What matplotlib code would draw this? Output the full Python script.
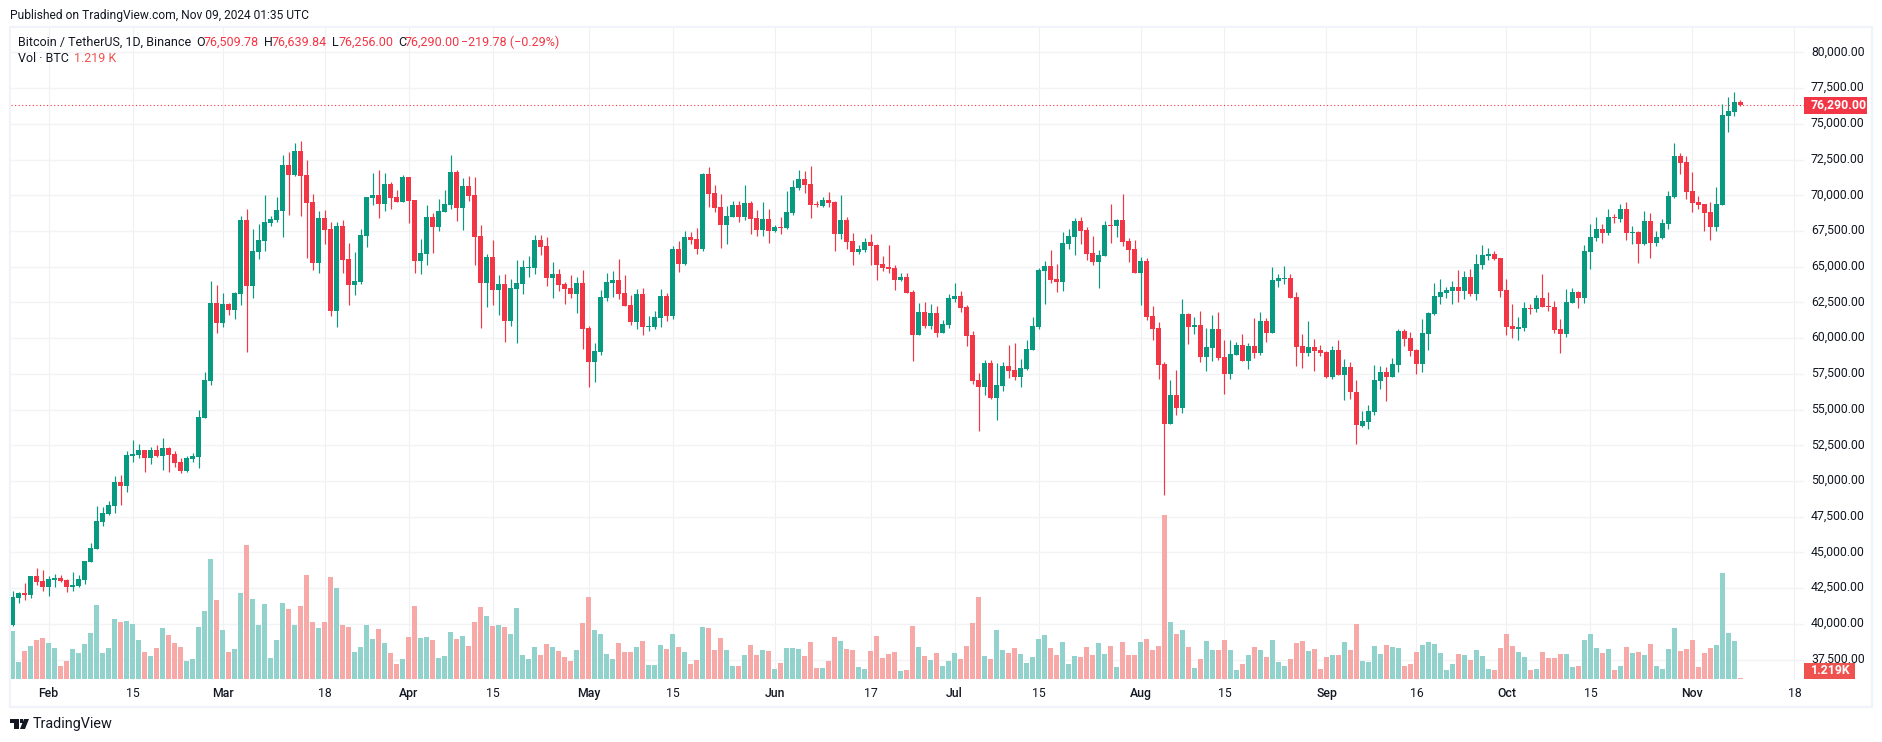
import pandas as pd
import matplotlib
matplotlib.use("Agg")
import matplotlib.pyplot as plt
from matplotlib.patches import Rectangle, Polygon
from matplotlib.transforms import ScaledTranslation

plt.rcParams['font.family'] = ['Roboto', 'DejaVu Sans']

open_ = [
    39920,41810,42160,42020,43350,43000,42580,43070,43210,43070,
    42580,42650,43070,44330,45240,47130,47690,48250,49930,49650,
    51750,51820,52170,51610,52170,51750,52310,51890,51330,50700,
    51540,51680,54410,57000,62460,61060,62390,61970,63090,68270,
    63650,66030,66800,68060,68270,68900,72120,71420,73100,71420,
    69530,65260,68410,67640,61900,67850,65540,63720,63930,67150,
    69810,70020,69390,70790,69880,69530,71280,69670,65400,65890,
    68480,67780,68830,69320,71630,69110,70650,70020,67150,63860,
    65680,63370,63790,61200,63440,63790,64910,64910,66870,66450,
    64210,64490,63790,63510,63090,63860,60710,58330,59030,62810,
    63860,64070,63160,62320,61130,63090,60780,60780,61410,62950,
    61550,66240,65190,67080,66940,66240,71490,70160,69180,67920,
    68480,69320,68480,69460,68410,67570,68340,67500,67780,67710,
    68760,70510,71140,70790,69390,69250,69670,69530,67290,68270,
    66800,66030,66170,66730,66520,65190,64980,64910,64070,64280,
    63230,60220,61830,60850,61760,60360,60920,62740,62950,62180,
    60220,57070,56580,58260,55810,56650,58050,57770,57280,57840,
    59170,60780,64700,65050,64140,63930,66590,67080,68200,67570,
    65960,65330,65750,67920,67850,68270,66800,66240,64560,65400,
    61550,60710,58190,53990,56020,55110,61690,60780,60920,58680,
    59310,60640,58680,57490,58820,59520,58400,59450,58960,61200,
    60360,64000,64140,64210,62880,59450,58960,59380,59170,59030,
    57280,59170,57420,57980,56210,53870,54150,54850,57020,57630,
    57280,58120,60500,60010,59170,58190,60290,61690,62880,63160,
    63300,63580,63300,64280,63090,65120,65750,65890,65610,63370,
    60850,60640,60710,62110,62040,62810,62250,62180,60640,60290,
    62460,63230,62810,66030,67010,67640,67360,68480,68340,69040,
    67360,67430,66590,68200,66660,67010,67990,69880,72750,72330,
    70300,69530,69390,68830,67780,69320,75550,75830,76509.78,
]
high = [
    42300,42230,42860,43350,43910,43770,43350,43490,43420,43140,
    43630,43420,44400,45660,48250,48180,48600,50350,50420,52100,
    52870,52590,52170,52380,52520,53010,52380,52100,51610,51750,
    51960,54970,57630,63970,63720,63160,62460,63230,68550,69040,
    67640,67990,70020,68550,69880,72820,73030,73660,73800,72470,
    70090,68900,68970,68130,68130,68270,66660,66030,67640,69880,
    71560,71770,71560,70930,70370,71420,71280,69670,66940,69320,
    68760,69740,70370,72820,71770,71210,71350,71280,67920,65890,
    66870,64420,64490,64140,65470,65470,65750,67220,67220,67080,
    65330,64840,63930,64420,64280,64770,60850,59660,63370,64560,
    64700,65540,64420,63020,63440,63510,61550,61900,63440,63160,
    66450,66800,67500,67430,67710,71560,71980,70720,70090,69250,
    69600,69600,70720,69600,68970,69530,69040,67920,68480,70300,
    71070,71770,71700,72050,69600,69880,70230,69600,70020,68480,
    67360,66520,67010,67290,66590,65750,66520,65120,64560,64560,
    63370,62460,62530,62390,62250,61270,63090,63860,63300,62320,
    60500,57560,58470,58470,58260,58330,59520,59660,58540,59870,
    61480,64910,65400,66170,65190,67430,67640,68410,68480,67780,
    67150,66170,68200,69390,68340,70090,67010,66870,65680,65610,
    62250,61130,58330,57070,57770,62740,61760,61480,61900,60710,
    61620,61830,59870,59870,59730,60290,59660,61410,61830,61410,
    64980,64490,65050,64490,63230,60290,61200,59940,59520,59100,
    59450,59870,58540,58350,57070,54900,55320,58120,58050,57980,
    58610,60640,60640,60430,59240,61340,61830,63860,64140,63580,
    64000,64770,64700,64840,65890,66520,66310,66100,65610,64140,
    62390,61480,62530,62390,63020,64490,63230,62600,61340,63440,
    63510,63300,66520,67990,68480,67990,69040,68690,69390,69530,
    67850,67500,68900,68760,67500,68340,70300,73660,72960,72750,
    71630,69950,69390,69530,70580,76390,76880,77230,76639.84,
]
low = [
    39850,41460,41670,41810,42720,42300,41950,42580,42930,42230,
    42300,42580,42790,44330,45240,46850,47620,47760,48320,49230,
    51330,51610,50630,51190,51680,50770,50630,50980,50560,50630,
    51330,50910,54410,56720,60360,60780,61620,61340,62320,59030,
    62810,65540,66100,67850,68130,67080,68620,71350,68550,65610,
    64770,64560,66590,61550,60780,64560,62320,63020,63790,66380,
    69320,68410,68900,69040,69530,69530,68060,64560,64490,65120,
    65960,67500,68830,69040,68200,67570,69600,65120,60710,62180,
    62320,61620,59730,60850,59660,63090,64280,64490,65820,63650,
    62810,63300,62390,62810,61760,59240,56580,56930,58820,62600,
    62880,62740,62250,60920,60640,60220,60500,60640,60780,61200,
    61340,64630,65120,66590,65890,66100,69180,68830,66310,66590,
    68480,68130,68270,67290,67150,67150,66660,67430,67290,67640,
    68620,70370,70160,68410,69180,69180,69180,66100,66940,66240,
    65120,65890,66030,65120,64070,64700,64560,63370,64000,63160,
    58400,60220,60710,60640,60080,60360,60710,62530,61830,59450,
    56790,53500,56020,55740,54270,56300,57210,57070,56580,57770,
    59170,60640,62390,63860,63230,63300,66240,65820,66590,65470,
    65120,63510,65750,66660,67080,66450,65330,64560,62320,61270,
    59870,57140,49020,53990,54620,54760,59590,60290,58330,57700,
    58400,58470,56090,57140,58820,58400,57840,58610,58820,59730,
    60360,63580,63790,62810,58050,57910,58750,57700,58750,57210,
    57140,57420,55670,55720,52590,53800,53640,54640,56440,55620,
    57280,57630,59450,58750,57490,57630,59170,61620,62390,62810,
    62390,62530,62740,62950,62670,64840,65470,65470,62880,60220,
    60010,59870,60500,61690,61830,62180,61900,60360,58960,60080,
    62460,62110,62460,64840,66800,66660,67220,68060,68130,66870,
    66590,65260,66520,65610,66450,66940,67640,69810,71490,69740,
    68830,69040,67500,66870,67500,69320,74430,75550,76256,
]
close = [
    41880,42160,42020,43350,42930,42580,43140,43210,43000,42580,
    42720,43140,44400,45310,47200,47760,48320,49930,49650,51820,
    51890,52170,51610,52170,51750,52310,51820,51260,50700,51610,
    51750,54480,57070,62460,61060,62390,61970,63160,68270,63650,
    66100,66870,68130,68340,68970,72120,71420,73100,71350,69460,
    65260,68410,67570,61900,67850,65470,63720,63970,67220,69880,
    70020,69390,70790,69810,69530,71280,69600,65400,65960,68480,
    67780,68900,69390,71630,69110,70650,69950,67080,63860,65680,
    63370,63790,61200,63510,63860,64980,64980,66870,66380,64210,
    64490,63720,63440,63090,63860,60640,58330,59100,62880,63930,
    64070,63090,62250,61130,63090,60780,60850,61480,62950,61550,
    66240,65190,67080,66870,66240,71490,70090,69110,67920,68550,
    69320,68480,69460,68340,67570,68340,67500,67780,67710,68830,
    70580,71140,70720,69320,69320,69670,69460,67290,68270,66730,
    66030,66240,66730,66450,65120,64910,64840,64070,64280,63160,
    60220,61830,60850,61760,60360,60990,62810,62950,62110,60150,
    57000,56580,58260,55810,56720,58050,57700,57280,57910,59240,
    60850,64770,65050,64070,63930,66660,67150,68200,67500,65890,
    65330,65820,67920,67850,68270,66730,66170,64560,65400,61480,
    60640,58120,53990,56020,55110,61690,60780,60920,58680,59380,
    60640,58610,57490,58890,59520,58400,59450,58960,61200,60360,
    64070,64210,64210,62810,59380,58960,59380,59100,58960,57280,
    59170,57420,57980,56210,53940,54200,54900,57070,57630,57280,
    58190,60500,59940,59100,58190,60360,61760,62950,63230,63370,
    63580,63300,64280,63090,65190,65820,65890,65540,63300,60780,
    60640,60780,62110,62040,62810,62180,62180,60570,60290,62530,
    63230,62810,66100,67080,67640,67360,68480,68410,69040,67360,
    67430,66590,68200,66660,67080,68060,69950,72750,72260,70230,
    69460,69320,68760,67780,69390,75620,75900,76530,76290,
]
# volume in thousands of BTC
volume = [
    62.4,22.1,36.4,42.9,50.7,53.3,46.8,40.3,16.9,23.4,
    39,33.8,45.5,59.8,96.2,33.8,40.3,78,74.1,75.4,
    71.5,50.7,35.1,29.9,40.3,66.3,57.2,46.8,41.6,23.4,
    26,67.6,88.4,156,102.7,63.7,35.1,39,111.8,174.2,
    104,70.2,97.5,27.3,50.7,98.8,91,70.2,94.9,135.2,
    74.1,66.3,74.1,132.6,118.3,70.2,67.6,35.1,41.6,70.2,
    52,65,46.8,33.8,19.5,26,54.6,94.9,53.3,54.6,
    50.7,27.3,29.9,61.1,52,55.9,42.9,74.1,93.6,81.9,
    68.9,70.2,67.6,58.5,92.3,31.2,26,41.6,31.2,45.5,
    41.6,36.4,28.6,23.4,37.7,72.8,106.6,63.7,58.5,32.5,
    26,46.8,35.1,35.1,41.6,49.4,18.2,18.2,44.2,39,
    58.5,41.6,35.1,19.5,24.7,67.6,66.3,37.7,53.3,37.7,
    16.9,16.9,31.2,44.2,31.2,37.7,36.4,13,20.8,40.3,
    40.3,39,29.9,48.1,14.3,14.3,23.4,54.6,49.4,39,
    37.7,15.6,13,36.4,55.9,27.3,32.5,35.1,10.4,11.7,
    68.9,41.6,29.9,24.7,33.8,16.9,23.4,33.8,26,42.9,
    72.8,106.6,29.9,26,63.7,37.7,33.8,40.3,32.5,20.8,
    28.6,52,57.2,40.3,31.2,48.1,19.5,29.9,28.6,41.6,
    31.2,46.8,32.5,42.9,15.6,48.1,31.2,31.2,48.1,52,
    37.7,42.9,213.2,74.1,58.5,63.7,41.6,14.3,26,49.4,
    37.7,37.7,50.7,37.7,11.7,19.5,31.2,41.6,37.7,28.6,
    50.7,22.1,16.9,26,46.8,49.4,36.4,39,13,28.6,
    31.2,31.2,48.1,37.7,71.5,23.4,22.1,42.9,32.5,44.2,
    41.6,40.3,16.9,19.5,35.1,44.2,48.1,45.5,33.8,11.7,
    19.5,32.5,31.2,24.7,37.7,29.9,13,11.7,40.3,58.5,
    42.9,35.1,28.6,11.7,13,35.1,27.3,27.3,32.5,32.5,
    15.6,16.9,50.7,58.5,40.3,33.8,39,11.7,16.9,41.6,
    33.8,35.1,31.2,45.5,16.9,13,39,66.3,36.4,39,
    50.7,15.6,33.8,40.3,44.2,137.8,59.8,49.4,1.219,
]
tick_dates = ["2024-02-01","2024-02-15","2024-03-01","2024-03-18","2024-04-01","2024-04-15",
              "2024-05-01","2024-05-15","2024-06-01","2024-06-17","2024-07-01","2024-07-15",
              "2024-08-01","2024-08-15","2024-09-01","2024-09-16","2024-10-01","2024-10-15",
              "2024-11-01","2024-11-18"]
tick_labels = ["Feb","15","Mar","18","Apr","15","May","15","Jun","17","Jul","15",
               "Aug","15","Sep","16","Oct","15","Nov","18"]
price_ticks = list(range(37500, 80001, 2500))

GREEN = "#089981"
RED = "#F23645"
VOL_GREEN = "#92D2CC"
VOL_RED = "#F7A9A7"
GRID = "#F2F3F5"
FRAME = "#F0F3FA"
TEXT = "#131722"
W, H = 1883, 742

df = pd.DataFrame({"open": open_, "high": high, "low": low, "close": close, "volume": volume},
                  index=pd.date_range("2024-01-26", periods=len(close), freq="D"))
up = df["close"] >= df["open"]


def fx(px):
    return px / W


def fy(py):
    return 1 - py / H


fig = plt.figure(figsize=(W / 100, H / 100), dpi=100, facecolor="white")
rect = [fx(11), fy(680), fx(1804 - 11), 652 / H]
ax = fig.add_axes(rect, zorder=1)
ax_vol = fig.add_axes(rect, sharex=ax, zorder=2)
ax_vol.patch.set_visible(False)

# wicks and bodies
colors = [GREEN if u else RED for u in up]
ax.vlines(df.index, df["low"], df["high"], colors=colors, lw=0.85, zorder=3)
body_low = df[["open", "close"]].min(axis=1)
body_h = (df["close"] - df["open"]).abs().clip(lower=40)
ax.bar(df.index, body_h, bottom=body_low, width=0.84, color=colors, lw=0, zorder=4)

ax_vol.bar(df.index, df["volume"], width=0.84, lw=0,
           color=[VOL_GREEN if u else VOL_RED for u in up])
ax_vol.set_ylim(-1.3, 846.3)
ax_vol.axis("off")

ax.set_ylim(36070, 81710)
ax.set_xlim(df.index[0] - pd.Timedelta(days=0.28), df.index[0] + pd.Timedelta(days=298.6))
ax.yaxis.tick_right()
ax.set_yticks(price_ticks)
ax.set_yticklabels([f"{p:,.2f}" for p in price_ticks], fontsize=8.8, color=TEXT)
ax.set_xticks(pd.to_datetime(tick_dates))
ax.set_xticklabels(tick_labels, fontsize=8.8, color=TEXT)
ax.tick_params(axis="y", length=0, pad=5)
ax.tick_params(axis="x", length=0, pad=5)
# the scale labels sit a little above their grid lines
for lbl in ax.get_yticklabels():
    lbl.set_transform(lbl.get_transform() + ScaledTranslation(0, 2 / 100, fig.dpi_scale_trans))
for lbl, name in zip(ax.get_xticklabels(), tick_labels):
    if not name.isdigit():
        lbl.set_fontweight("medium")
ax.grid(True, axis="y", color=GRID, lw=1.0, zorder=0)
ax.grid(True, axis="x", color="#EFF0F3", lw=0.8, zorder=0)
ax.set_axisbelow(True)
for s in ax.spines.values():
    s.set_visible(False)

# last price line
ax.axhline(df["close"].iloc[-1], color=RED, lw=0.8, ls=(0, (1, 2.2)), zorder=2)

# frame around the chart
fig.add_artist(Rectangle((fx(10), fy(707)), fx(1872 - 10), 680 / H, transform=fig.transFigure,
                         fill=False, ec=FRAME, lw=1.6))

# price and volume labels on the scale
fig.add_artist(Rectangle((fx(1804), fy(113.5)), fx(63), 16.5 / H, transform=fig.transFigure,
                         fc=RED, ec="none"))
fig.text(fx(1811), fy(105), "76,290.00", color="white", fontsize=8.8, fontweight="bold",
         va="center", ha="left")
fig.add_artist(Rectangle((fx(1804), fy(679)), fx(51), 16 / H, transform=fig.transFigure,
                         fc="#EF5350", ec="none", zorder=5))
fig.text(fx(1811), fy(671), "1.219K", color="white", fontsize=8.8, fontweight="bold",
         va="center", ha="left", zorder=6)

# header
fig.text(fx(10), fy(15), "Published on TradingView.com, Nov 09, 2024 01:35 UTC", color=TEXT,
         fontsize=8.65, va="center")
fig.text(fx(18), fy(42), "Bitcoin / TetherUS, 1D, Binance", color=TEXT, fontsize=9, va="center")
legend = [(196, "O", TEXT), (204, "76,509.78", RED), (264, "H", TEXT), (272, "76,639.84", RED),
          (332, "L", TEXT), (339, "76,256.00", RED), (398, "C", TEXT), (405, "76,290.00", RED),
          (461, "\u2212219.78 (\u22120.29%)", RED)]
for px, txt, col in legend:
    fig.text(fx(px), fy(42), txt, color=col, fontsize=9, va="center")
fig.text(fx(18), fy(59), "Vol \u00b7 BTC", color=TEXT, fontsize=9, va="center")
fig.text(fx(74), fy(59), "1.219 K", color="#EF5350", fontsize=9, va="center")

# TradingView logo
logo = [
    Polygon([(fx(10), fy(719)), (fx(19), fy(719)), (fx(19), fy(729)), (fx(14), fy(729)),
             (fx(14), fy(723)), (fx(10), fy(723))], transform=fig.transFigure, fc=TEXT, ec="none"),
    Polygon([(fx(24), fy(719)), (fx(29), fy(719)), (fx(25), fy(729)), (fx(20), fy(729))],
            transform=fig.transFigure, fc=TEXT, ec="none"),
    Rectangle((fx(20), fy(723)), fx(3), 4 / H, transform=fig.transFigure, fc=TEXT, ec="none"),
]
for p in logo:
    fig.add_artist(p)
fig.text(fx(33), fy(724), "TradingView", color=TEXT, fontsize=10.4, va="center")

fig.savefig("out.png", dpi=100)
